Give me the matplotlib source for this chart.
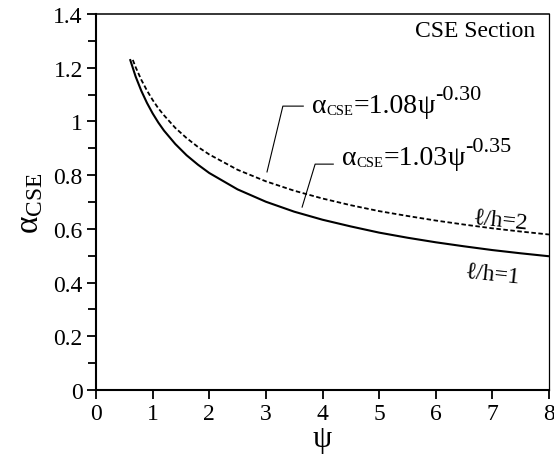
import matplotlib
matplotlib.use("Agg")
import matplotlib.pyplot as plt
from matplotlib.ticker import MultipleLocator, FixedLocator, FixedFormatter

plt.rcParams['font.family'] = ['Liberation Serif', 'DejaVu Serif']
plt.rcParams['mathtext.fontset'] = 'custom'
plt.rcParams['mathtext.rm'] = 'Liberation Serif'
plt.rcParams['mathtext.it'] = 'Liberation Serif'
plt.rcParams['mathtext.bf'] = 'Liberation Serif:bold'

# ---- data ----
psi_h1 = [0.6, 0.7, 0.8, 0.9, 1.0, 1.1, 1.2, 1.4, 1.6, 1.8, 2.0, 2.5, 3.0, 3.5,
          4.0, 4.5, 5.0, 5.5, 6.0, 6.5, 7.0, 7.5, 8.0]
alpha_h1 = [1.232, 1.167, 1.114, 1.069, 1.030, 0.996, 0.966, 0.916, 0.874, 0.839,
            0.808, 0.747, 0.701, 0.664, 0.634, 0.609, 0.586, 0.567, 0.550, 0.535,
            0.521, 0.509, 0.498]

psi_h2 = [0.65, 0.7, 0.8, 0.9, 1.0, 1.1, 1.2, 1.4, 1.6, 1.8, 2.0, 2.5, 3.0, 3.5,
          4.0, 4.5, 5.0, 5.5, 6.0, 6.5, 7.0, 7.5, 8.0]
alpha_h2 = [1.229, 1.202, 1.155, 1.115, 1.080, 1.049, 1.023, 0.976, 0.938, 0.905,
            0.877, 0.820, 0.777, 0.742, 0.713, 0.688, 0.666, 0.648, 0.631, 0.616,
            0.602, 0.590, 0.579]

xticks = [0, 1, 2, 3, 4, 5, 6, 7, 8]
yticks = [0, 0.2, 0.4, 0.6, 0.8, 1.0, 1.2, 1.4]
ytick_labels = ['0', '0.2', '0.4', '0.6', '0.8', '1', '1.2', '1.4']

fig = plt.figure(figsize=(5.54, 4.56), dpi=100)
ax = fig.add_axes([96/554, 1-391/456, (549-96)/554, (391-15)/456])

ax.plot(psi_h1, alpha_h1, color='black', lw=1.5, solid_capstyle='butt')
ax.plot(psi_h2, alpha_h2, color='black', lw=1.3, linestyle=(0, (2.5, 1.4)))

ax.set_xlim(0, 8)
ax.set_ylim(0, 1.4)
ax.xaxis.set_major_locator(FixedLocator(xticks))
ax.yaxis.set_major_locator(FixedLocator(yticks))
ax.yaxis.set_major_formatter(FixedFormatter(ytick_labels))
ax.yaxis.set_minor_locator(MultipleLocator(0.1))

ax.tick_params(axis='both', which='both', direction='out', width=1.3,
               labelsize=17, top=False, right=False)
ax.tick_params(axis='both', which='major', length=6.5, pad=3)
ax.tick_params(axis='y', which='minor', length=6)

for s in ['left', 'bottom']:
    ax.spines[s].set_linewidth(1.5)
ax.spines['top'].set_linewidth(1.1)
ax.spines['right'].set_linewidth(0.9)

ax.set_xlabel('ψ', fontsize=22, labelpad=0)
ax.set_ylabel(r'$\alpha_{\rm CSE}$', fontsize=24, labelpad=6)

ax.text(0.969, 0.957, 'CSE Section', transform=ax.transAxes, ha='right',
        va='center', fontsize=17)

renderer = fig.canvas.get_renderer()


def draw_pieces(x, y, pieces):
    """Lay out text pieces sequentially from data point (x, y) along a baseline."""
    off = 0.0  # in points
    for txt, size, dy in pieces:
        t = ax.annotate(txt, xy=(x, y), xycoords='data', xytext=(off, dy),
                        textcoords='offset points', fontsize=size,
                        ha='left', va='baseline')
        bb = t.get_window_extent(renderer)
        off += bb.width * 72.0 / fig.dpi


# formula annotations with leader lines
draw_pieces(3.815, 1.035, [('α', 20, 0), ('CSE', 10.5, -1.5), ('=1.08', 20, 0),
                           ('ψ', 20, 0), ('-0.30', 16, 9.5)])
ax.plot([3.02, 3.30, 3.66], [0.812, 1.057, 1.057], color='black', lw=0.8)
draw_pieces(4.344, 0.8415, [('α', 20, 0), ('CSE', 10.5, -1.5), ('=1.03', 20, 0),
                            ('ψ', 20, 0), ('-0.35', 16, 9.5)])
ax.plot([3.64, 3.87, 4.19], [0.681, 0.841, 0.841], color='black', lw=0.8)

ax.text(6.66, 0.644, 'ℓ/h=2', fontsize=17, ha='left', va='center',
        rotation=-6, rotation_mode='anchor')
ax.text(6.52, 0.443, 'ℓ/h=1', fontsize=17, ha='left', va='center',
        rotation=-6, rotation_mode='anchor')

fig.savefig('out.png', dpi=100)
